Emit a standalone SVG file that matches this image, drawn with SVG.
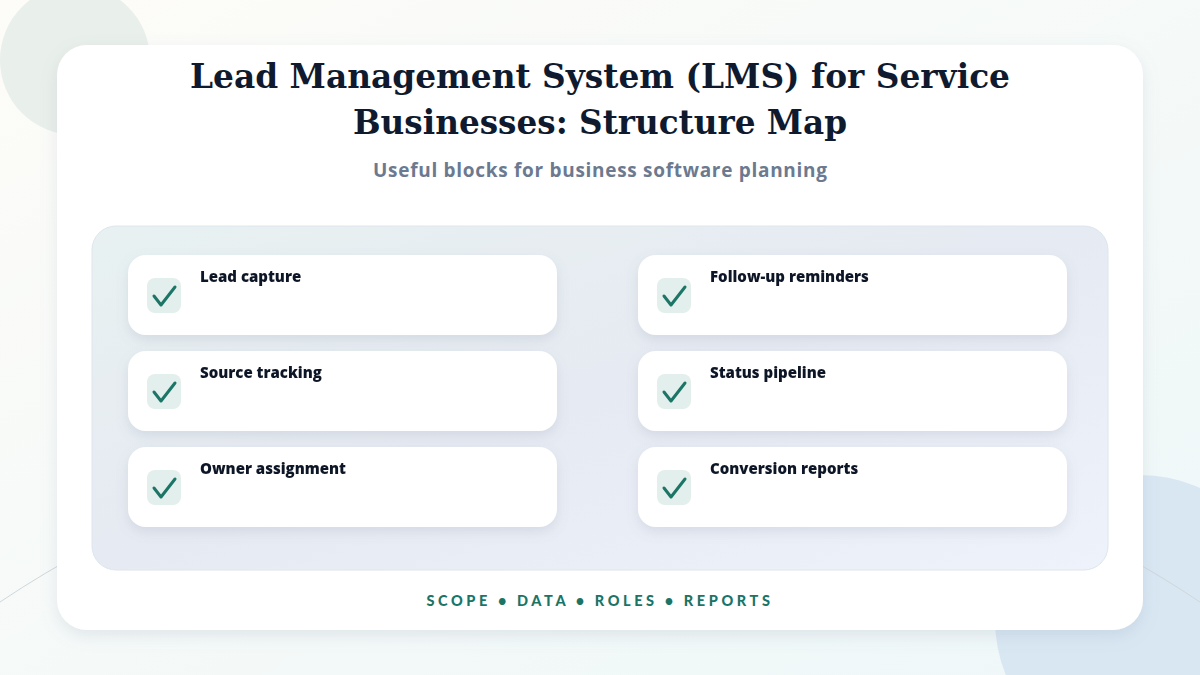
<svg xmlns="http://www.w3.org/2000/svg" width="1200" height="675" viewBox="0 0 1200 675">
<defs>
<linearGradient id="bg" x1="0" y1="0" x2="1" y2="1"><stop offset="0" stop-color="#fdfcf8"/><stop offset="1" stop-color="#eef7f8"/></linearGradient>
<linearGradient id="panel" x1="0" y1="0" x2="1" y2="1"><stop offset="0" stop-color="#e8f1f1"/><stop offset="0.5" stop-color="#e6eaf2"/><stop offset="1" stop-color="#eef2fa"/></linearGradient>
<filter id="sh" x="-10%" y="-10%" width="120%" height="130%"><feDropShadow dx="0" dy="6" stdDeviation="8" flood-color="#8090a8" flood-opacity="0.18"/></filter>
<filter id="sh2" x="-10%" y="-20%" width="120%" height="150%"><feDropShadow dx="0" dy="5" stdDeviation="6" flood-color="#7888a0" flood-opacity="0.18"/></filter>
<symbol id="chk"><rect x="0" y="0" width="34" height="35" rx="8" fill="#e3efec"/><path d="M7 18 L14 27 L28 9" fill="none" stroke="#1b7466" stroke-width="3" stroke-linecap="round" stroke-linejoin="round"/></symbol>
</defs>
<style>
.lbl{font-family:"Open Sans","Noto Sans",sans-serif;font-weight:800;font-size:15px;fill:#111827}
.node{fill:#ffffff}
</style>
<rect width="1200" height="675" fill="url(#bg)"/>
<circle cx="75" cy="60" r="75" fill="#e9efea"/>
<circle cx="1140" cy="620" r="145" fill="#d8e7f2"/>
<circle cx="600" cy="1500" r="1080" fill="none" stroke="#d0d6dc" stroke-width="1"/>
<rect x="57" y="45" width="1086" height="585" rx="30" fill="#ffffff" filter="url(#sh)"/>
<text x="600" y="88" text-anchor="middle" font-family="'DejaVu Serif',serif" font-weight="bold" font-size="33" textLength="820" lengthAdjust="spacingAndGlyphs" fill="#0f1a2e">Lead Management System (LMS) for Service</text>
<text x="600" y="134" text-anchor="middle" font-family="'DejaVu Serif',serif" font-weight="bold" font-size="33" textLength="494" lengthAdjust="spacingAndGlyphs" fill="#0f1a2e">Businesses: Structure Map</text>
<text x="600" y="177" text-anchor="middle" font-family="'Open Sans',sans-serif" font-weight="bold" font-size="19" textLength="454" fill="#6b7a90">Useful blocks for business software planning</text>
<rect x="92" y="226" width="1016" height="344" rx="24" fill="url(#panel)" stroke="#dde6ee"/>
<g id="connectors"/>
<g id="n1" filter="url(#sh2)"><rect class="node" x="128" y="255" width="429" height="80" rx="18"/><use href="#chk" x="147" y="278"/><text class="lbl" x="200" y="282">Lead capture</text></g>
<g id="n2" filter="url(#sh2)"><rect class="node" x="128" y="351" width="429" height="80" rx="18"/><use href="#chk" x="147" y="374"/><text class="lbl" x="200" y="378">Source tracking</text></g>
<g id="n3" filter="url(#sh2)"><rect class="node" x="128" y="447" width="429" height="80" rx="18"/><use href="#chk" x="147" y="470"/><text class="lbl" x="200" y="474">Owner assignment</text></g>
<g id="n4" filter="url(#sh2)"><rect class="node" x="638" y="255" width="429" height="80" rx="18"/><use href="#chk" x="657" y="278"/><text class="lbl" x="710" y="282">Follow-up reminders</text></g>
<g id="n5" filter="url(#sh2)"><rect class="node" x="638" y="351" width="429" height="80" rx="18"/><use href="#chk" x="657" y="374"/><text class="lbl" x="710" y="378">Status pipeline</text></g>
<g id="n6" filter="url(#sh2)"><rect class="node" x="638" y="447" width="429" height="80" rx="18"/><use href="#chk" x="657" y="470"/><text class="lbl" x="710" y="474">Conversion reports</text></g>
<text x="600" y="606" text-anchor="middle" font-family="Lato,sans-serif" font-weight="900" font-size="14.5" letter-spacing="3.6" fill="#1b7466">SCOPE • DATA • ROLES • REPORTS</text>
</svg>
